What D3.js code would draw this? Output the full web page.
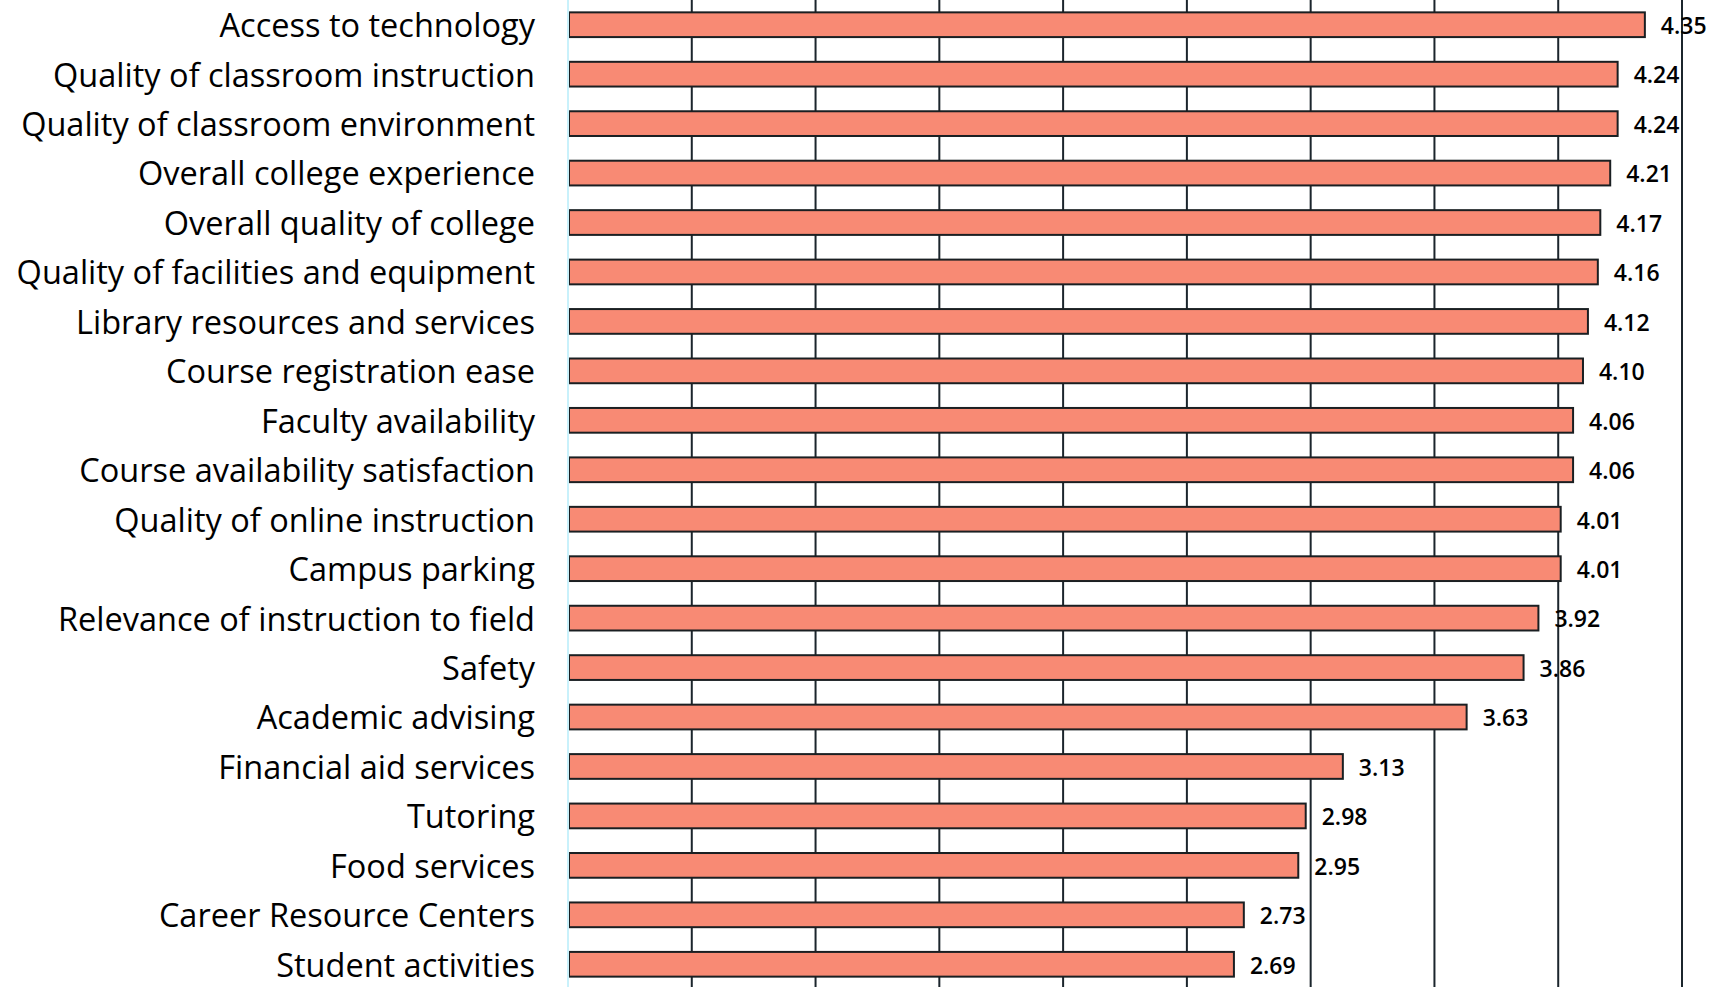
<!DOCTYPE html>
<html>
<head>
<meta charset="utf-8">
<script src="https://cdn.jsdelivr.net/npm/d3@7"></script>
<style>
  html, body { margin: 0; padding: 0; background: #fff; }
  svg { display: block; }
</style>
</head>
<body>
<div id="chart"></div>
<script>
// categories, top to bottom
var categories = [
    "Access to technology",
    "Quality of classroom instruction",
    "Quality of classroom environment",
    "Overall college experience",
    "Overall quality of college",
    "Quality of facilities and equipment",
    "Library resources and services",
    "Course registration ease",
    "Faculty availability",
    "Course availability satisfaction",
    "Quality of online instruction",
    "Campus parking",
    "Relevance of instruction to field",
    "Safety",
    "Academic advising",
    "Financial aid services",
    "Tutoring",
    "Food services",
    "Career Resource Centers",
    "Student activities"
];
var values = [4.35, 4.24, 4.24, 4.21, 4.17, 4.16, 4.12, 4.10, 4.06, 4.06,
              4.01, 4.01, 3.92, 3.86, 3.63, 3.13, 2.98, 2.95, 2.73, 2.69];
var gridTicks = [0.5, 1, 1.5, 2, 2.5, 3, 3.5, 4, 4.5];

var data = categories.map(function (c, i) { return { label: c, value: values[i] }; });

var W = 1717, H = 987;
var margin = { top: 0, right: 35, bottom: 0, left: 568 };

var x = d3.scaleLinear()
    .domain([0, 4.5])
    .range([margin.left, margin.left + 1114]);

var y = d3.scaleBand()
    .domain(categories)
    .range([0, 989])
    .paddingInner(0.5)
    .paddingOuter(0.25);

var svg = d3.select("#chart").append("svg")
    .attr("width", W)
    .attr("height", H);

// vertical grid lines
svg.append("g")
    .attr("class", "grid")
    .selectAll("line")
    .data(gridTicks)
    .enter().append("line")
    .attr("x1", function (d) { return x(d); })
    .attr("x2", function (d) { return x(d); })
    .attr("y1", 0)
    .attr("y2", H)
    .attr("stroke", "#1b252c")
    .attr("stroke-width", 2);

// bars
svg.append("g")
    .selectAll("rect")
    .data(data)
    .enter().append("rect")
    .attr("x", x(0) + 1)
    .attr("y", function (d) { return y(d.label); })
    .attr("width", function (d) { return x(d.value) - x(0) - 1; })
    .attr("height", y.bandwidth())
    .attr("fill", "#f88a74")
    .attr("stroke", "#1a1f22")
    .attr("stroke-width", 2);

// baseline
svg.append("line")
    .attr("x1", x(0))
    .attr("x2", x(0))
    .attr("y1", 0)
    .attr("y2", H)
    .attr("stroke", "#c9f1fb")
    .attr("stroke-width", 2);

// category labels via axis
var yAxis = svg.append("g")
    .attr("transform", "translate(" + (x(0) - 33) + ",2)")
    .call(d3.axisLeft(y).tickSize(0).tickPadding(0));
yAxis.select(".domain").remove();
yAxis.selectAll("text")
    .attr("font-family", "'Open Sans', 'Noto Sans', sans-serif")
    .attr("font-size", 32.5)
    .attr("fill", "#000");

// value labels
svg.append("g")
    .selectAll("text")
    .data(data)
    .enter().append("text")
    .attr("x", function (d) { return x(d.value) + 16; })
    .attr("y", function (d) { return y(d.label) + y.bandwidth() / 2 + 1; })
    .attr("dy", "0.36em")
    .attr("font-family", "'Open Sans', 'Noto Sans', sans-serif")
    .attr("font-size", 23)
    .attr("font-weight", 600)
    .attr("fill", "#000")
    .text(function (d) { return d.value.toFixed(2); });
</script>
</body>
</html>
